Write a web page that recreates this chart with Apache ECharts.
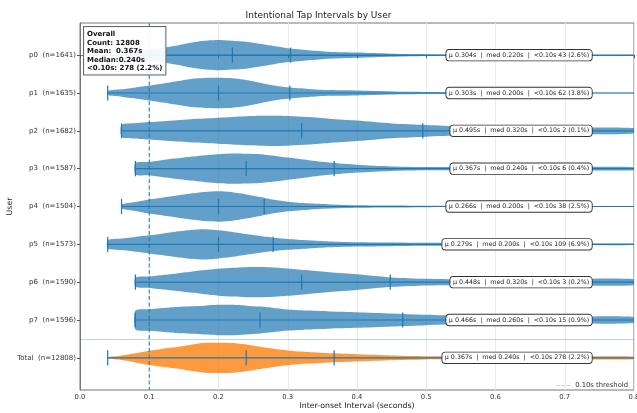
<!DOCTYPE html>
<html>
<head>
<meta charset="utf-8">
<script src="https://cdn.jsdelivr.net/npm/echarts@6/dist/echarts.min.js"></script>
<style>html,body{margin:0;padding:0;background:#fff;}#c{width:637px;height:413px;}</style>
</head>
<body>
<div id="c"></div>
<script>
const users = ['p0','p1','p2','p3','p4','p5','p6','p7','Total'];
const counts = [1641,1635,1682,1587,1504,1573,1590,1596,12808];
const means = [0.304,0.303,0.495,0.367,0.266,0.279,0.448,0.466,0.367];
const medians = [0.220,0.200,0.320,0.240,0.200,0.200,0.320,0.260,0.240];
const minVals = [0.06,0.04,0.06,0.08,0.06,0.04,0.08,0.08,0.04];
const maxVals = [1.2,1.2,1.2,1.2,1.2,1.2,1.2,1.2,1.2];
const underCounts = [43,62,2,6,38,109,3,15,278];
const underPct = [2.6,3.8,0.1,0.4,2.5,6.9,0.2,0.9,2.2];
const xTicks = [0,0.1,0.2,0.3,0.4,0.5,0.6,0.7,0.8];
const threshold = 0.1;
const overallLines = ['Overall','Count: 12808','Mean:  0.367s','Median:0.240s','<0.10s: 278 (2.2%)'];

// relative violin density (max = 1) sampled at densityX
const densityX = [0.04,0.06,0.08,0.10,0.12,0.14,0.16,0.18,0.20,0.22,0.24,0.26,0.28,0.30,0.33,0.36,0.40,0.45,0.50,0.55,0.60,0.70,0.80];
const densP0 = [null,0.22,0.30,0.38,0.49,0.64,0.82,0.95,1.00,0.95,0.89,0.75,0.60,0.46,0.33,0.23,0.17,0.10,0.05,0.03,0.02,0.015,0.015];
const densP1 = [0.13,0.24,0.36,0.49,0.63,0.78,0.93,0.99,1.00,0.97,0.86,0.68,0.50,0.38,0.27,0.19,0.16,0.10,0.07,0.05,0.03,0.02,0.02];
const densP2 = [null,0.40,0.50,0.58,0.64,0.70,0.76,0.81,0.86,0.91,0.96,0.99,1.00,0.98,0.91,0.80,0.68,0.49,0.39,0.30,0.25,0.21,0.18];
const densP3 = [null,null,0.38,0.44,0.57,0.68,0.79,0.89,0.96,1.00,0.98,0.95,0.85,0.73,0.56,0.41,0.26,0.15,0.11,0.10,0.10,0.10,0.10];
const densP4 = [null,0.13,0.30,0.47,0.60,0.73,0.86,0.96,1.00,0.94,0.80,0.63,0.45,0.32,0.21,0.14,0.09,0.07,0.05,0.04,0.03,0.03,0.03];
const densP5 = [0.27,0.38,0.49,0.60,0.72,0.85,0.95,1.00,0.93,0.82,0.68,0.55,0.44,0.36,0.27,0.19,0.14,0.12,0.10,0.08,0.06,0.05,0.05];
const densP6 = [null,null,0.31,0.38,0.48,0.58,0.69,0.80,0.89,0.95,0.99,1.00,0.97,0.90,0.78,0.65,0.52,0.31,0.22,0.18,0.19,0.20,0.20];
const densP7 = [null,null,0.62,0.71,0.79,0.86,0.91,0.95,1.00,1.00,0.95,0.89,0.80,0.70,0.62,0.57,0.52,0.43,0.34,0.27,0.24,0.21,0.20];
const densTotal = [0.03,0.15,0.30,0.47,0.60,0.71,0.86,0.99,1.00,0.98,0.88,0.73,0.60,0.49,0.38,0.30,0.24,0.16,0.11,0.10,0.09,0.09,0.09];
const densities = [densP0,densP1,densP2,densP3,densP4,densP5,densP6,densP7,densTotal];

const X_MIN = 0, X_MAX = 0.8, Y_MIN = -0.85, Y_MAX = 8.85;
const HALF = 0.4, TICK = 0.2, LABEL_X = 0.739;
const FONT = "'DejaVu Sans', sans-serif";
const BLUE = '#1f77b4';

function renderItem(params, api) {
  const idx = api.value(0);
  const d = densities[idx];
  const top = [], bot = [];
  for (let i = 0; i < densityX.length; i++) {
    if (d[i] == null) continue;
    const x = Math.min(densityX[i], X_MAX);
    top.push(api.coord([x, idx - HALF * d[i]]));
    bot.push(api.coord([x, idx + HALF * d[i]]));
  }
  const pts = top.concat(bot.reverse());
  const fill = idx === 8 ? 'rgba(255,127,14,0.8)' : 'rgba(31,119,180,0.7)';
  const lineStyle = {stroke: BLUE, lineWidth: 1.2};
  const seg = (x1, y1, x2, y2) => {
    const a = api.coord([x1, y1]), b = api.coord([x2, y2]);
    return {type: 'line', shape: {x1: a[0], y1: a[1], x2: b[0], y2: b[1]}, style: lineStyle};
  };
  const xEnd = Math.min(maxVals[idx], X_MAX);
  const lp = api.coord([LABEL_X, idx]);
  const txt = '\u03bc ' + means[idx].toFixed(3) + 's  |  med ' + medians[idx].toFixed(3) + 's  |  <0.10s ' + underCounts[idx] + ' (' + underPct[idx].toFixed(1) + '%)';
  return {
    type: 'group',
    children: [
      {type: 'polygon', shape: {points: pts, smooth: 0.25}, style: {fill: fill, stroke: 'none'}},
      seg(minVals[idx], idx, xEnd, idx),
      seg(minVals[idx], idx - TICK, minVals[idx], idx + TICK),
      seg(means[idx], idx - TICK, means[idx], idx + TICK),
      seg(medians[idx], idx - TICK, medians[idx], idx + TICK),
      {type: 'text', x: lp[0], y: lp[1], z2: 10,
       style: {text: txt, fill: '#222', font: '6.3px ' + FONT, align: 'right', verticalAlign: 'middle',
               backgroundColor: '#fff', borderColor: '#333', borderWidth: 0.9, borderRadius: 3, padding: [2.5, 2.5, 2, 2.5]}}
    ]
  };
}

const chart = echarts.init(document.getElementById('c'), null, {renderer: 'canvas'});
chart.setOption({
  animation: false,
  backgroundColor: '#fff',
  title: {text: 'Intentional Tap Intervals by User', left: 'center', top: 6,
          textStyle: {fontFamily: FONT, fontSize: 9, fontWeight: 'normal', color: '#222'}},
  grid: {left: 80, right: 3, top: 23, bottom: 23, show: true, borderColor: '#777', borderWidth: 1,
         containLabel: false, outerBoundsMode: 'none'},
  legend: {right: 4, top: 377, itemWidth: 14, itemHeight: 2, itemGap: 5,
           textStyle: {fontFamily: FONT, fontSize: 6.8, color: '#333'},
           data: [{name: '0.10s threshold',
                   icon: 'path://M0,0 L5,0 L5,1 L0,1 Z M7.5,0 L12.5,0 L12.5,1 L7.5,1 Z M15,0 L20,0 L20,1 L15,1 Z',
                   itemStyle: {color: 'rgba(31,119,180,0.65)'}}]},
  xAxis: {type: 'value', min: X_MIN, max: X_MAX, interval: 0.1,
          name: 'Inter-onset Interval (seconds)', nameLocation: 'middle', nameGap: 12, nameMoveOverlap: false,
          nameTextStyle: {fontFamily: FONT, fontSize: 7.8, color: '#222'},
          axisLine: {show: true, lineStyle: {color: '#777'}},
          axisTick: {show: true, length: 3, lineStyle: {color: '#555'}},
          axisLabel: {fontFamily: FONT, fontSize: 6.8, color: '#333', margin: 4, formatter: v => v.toFixed(1)},
          splitLine: {show: true, lineStyle: {color: '#ebebeb', width: 1}}},
  yAxis: {type: 'value', inverse: true, min: Y_MIN, max: Y_MAX,
          name: 'User', nameLocation: 'middle', nameGap: 66, nameMoveOverlap: false,
          nameTextStyle: {fontFamily: FONT, fontSize: 7.8, color: '#222'},
          axisLine: {show: true, lineStyle: {color: '#777'}},
          axisTick: {show: true, length: 3, customValues: users.map((u, i) => i), lineStyle: {color: '#555'}},
          axisLabel: {fontFamily: FONT, fontSize: 7, color: '#333', margin: 4,
                      customValues: users.map((u, i) => i),
                      formatter: v => users[Math.round(v)] + '  (n=' + counts[Math.round(v)] + ')'},
          splitLine: {show: false}},
  series: [
    {type: 'custom', name: 'violins', renderItem: renderItem, data: users.map((u, i) => [i]),
     clip: true, z: 2,
     markLine: {silent: true, symbol: ['none', 'none'], label: {show: false},
                lineStyle: {color: 'rgba(31,119,180,0.3)', type: 'solid', width: 1},
                data: [{yAxis: 7.5}]}},
    {type: 'line', name: '0.10s threshold', symbol: 'none', z: 3,
     data: [[threshold, Y_MIN], [threshold, Y_MAX]],
     lineStyle: {color: 'rgba(31,119,180,0.85)', width: 1.2, type: [4, 2.5]},
     itemStyle: {color: 'rgba(31,119,180,0.5)'}}
  ],
  graphic: [
    {type: 'text', left: 83, top: 26, z: 100,
     style: {text: overallLines.join('\n'), font: 'bold 7px ' + FONT, fill: '#111', lineHeight: 8.5,
             backgroundColor: 'rgba(255,255,255,0.92)', borderColor: '#666', borderWidth: 1, padding: [3, 3, 2, 3]}}
  ]
});
</script>
</body>
</html>
